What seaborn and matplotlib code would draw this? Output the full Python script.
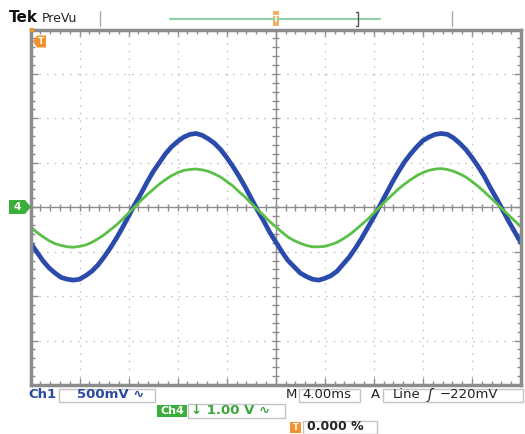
import numpy as np
import pandas as pd
import matplotlib
matplotlib.use("Agg")
import matplotlib.pyplot as plt
import seaborn as sns
from matplotlib.patches import Rectangle, Polygon

time_ms = [i * 0.5 for i in range(81)]
ch1_volts = [-0.40, -0.50, -0.60, -0.68, -0.74, -0.79, -0.81, -0.82, -0.81, -0.77,
             -0.72, -0.65, -0.56, -0.46, -0.35, -0.23, -0.10, 0.03, 0.15, 0.28,
             0.40, 0.50, 0.60, 0.68, 0.74, 0.79, 0.82, 0.83, 0.81, 0.77,
             0.72, 0.65, 0.56, 0.46, 0.35, 0.23, 0.10, -0.03, -0.15, -0.28,
             -0.39, -0.50, -0.60, -0.67, -0.74, -0.78, -0.81, -0.82, -0.80, -0.77,
             -0.72, -0.64, -0.56, -0.46, -0.35, -0.23, -0.11, 0.02, 0.15, 0.28,
             0.40, 0.51, 0.60, 0.68, 0.75, 0.79, 0.82, 0.83, 0.82, 0.78,
             0.72, 0.65, 0.56, 0.46, 0.35, 0.22, 0.10, -0.03, -0.16, -0.28,
             -0.40]
ch4_volts = [-0.44, -0.56, -0.66, -0.75, -0.82, -0.86, -0.89, -0.90, -0.88, -0.85,
             -0.79, -0.71, -0.62, -0.51, -0.40, -0.27, -0.13, 0.01, 0.15, 0.28,
             0.40, 0.52, 0.62, 0.71, 0.78, 0.83, 0.85, 0.86, 0.84, 0.81,
             0.75, 0.68, 0.58, 0.48, 0.35, 0.23, 0.09, -0.05, -0.18, -0.32,
             -0.44, -0.56, -0.67, -0.75, -0.81, -0.86, -0.89, -0.89, -0.88, -0.84,
             -0.79, -0.71, -0.62, -0.51, -0.39, -0.27, -0.13, 0.01, 0.15, 0.28,
             0.41, 0.52, 0.62, 0.71, 0.78, 0.83, 0.86, 0.87, 0.85, 0.81,
             0.75, 0.68, 0.58, 0.47, 0.35, 0.22, 0.09, -0.05, -0.18, -0.31,
             -0.44]
ch1_scale = 0.5      # V/div
ch4_scale = 1.0      # V/div
time_per_div = 4.0   # ms/div
n_hdiv, n_vdiv = 10, 8

sns.set_style("white")
plt.rcParams['font.family'] = ['DejaVu Sans']

W, H = 525, 434
fig = plt.figure(figsize=(W / 100, H / 100), dpi=100)
L, R, T, B = 30.5, 521, 29.5, 385
ax = fig.add_axes([L / W, 1 - B / H, (R - L) / W, (B - T) / H])
xmax = n_hdiv * time_per_div
ax.set_xlim(0, xmax)
ax.set_ylim(-n_vdiv / 2, n_vdiv / 2)

grid_c = '#bdbdbd'
for i in range(1, n_hdiv):
    if i != n_hdiv // 2:
        ax.axvline(i * time_per_div, ls=(0, (1.2, 5)), color=grid_c, lw=0.9, zorder=1)
for j in range(-n_vdiv // 2 + 1, n_vdiv // 2):
    if j != 0:
        ax.axhline(j, ls=(0, (1.2, 5)), color=grid_c, lw=0.9, zorder=1)
ax.axhline(0, color='#8c8c8c', lw=1.0, zorder=1)
ax.axvline(xmax / 2, color='#8c8c8c', lw=1.0, zorder=1)
ax.vlines(np.arange(0, xmax + 0.01, time_per_div / 5), -0.08, 0.08, color='#8c8c8c', lw=1.0, zorder=1)
ax.hlines(np.arange(-4, 4.01, 0.2), xmax / 2 - 0.3, xmax / 2 + 0.3, color='#8c8c8c', lw=1.0, zorder=1)

df1 = pd.DataFrame({"t": time_ms, "div": [v / ch1_scale for v in ch1_volts]})
df4 = pd.DataFrame({"t": time_ms, "div": [v / ch4_scale for v in ch4_volts]})
sns.lineplot(data=df1, x="t", y="div", color="#2b4bac", lw=3.4, ax=ax, zorder=3,
             solid_joinstyle='round', solid_capstyle='round')
sns.lineplot(data=df4, x="t", y="div", color="#5cbf48", lw=2.0, ax=ax, zorder=4,
             solid_joinstyle='round')

ax.set_xlabel("")
ax.set_ylabel("")
ax.set_xticks(np.arange(0, xmax + 0.01, time_per_div))
ax.set_xticks(np.arange(0, xmax + 0.01, time_per_div / 5), minor=True)
ax.set_yticks(np.arange(-4, 4.01, 1))
ax.set_yticks(np.arange(-4, 4.01, 0.2), minor=True)
ax.tick_params(which='both', direction='in', top=True, right=True, bottom=True, left=True,
               labelbottom=False, labelleft=False, color='#8c8c8c', width=1)
ax.tick_params(which='major', length=5)
ax.tick_params(which='minor', length=3)
for s in ax.spines.values():
    s.set_color('#8c8c8c')
    s.set_linewidth(2.5)
    s.set_zorder(5)

# ---- overlay in pixel coordinates for the scope annotations ----
ov = fig.add_axes([0, 0, 1, 1])
ov.set_xlim(0, W)
ov.set_ylim(H, 0)
ov.axis('off')
ov.patch.set_alpha(0)

blue_t = '#2a4aa0'
green_t = '#3aa53a'
orange = '#f0922e'

ov.text(9, 18, "Tek", fontsize=11, weight='bold', color='#111111', va='center', ha='left')
ov.text(42, 18, "PreVu", fontsize=9, color='#222222', va='center', ha='left')
ov.plot([100, 100], [11, 26], color='#aaaaaa', lw=1)
ov.plot([452, 452], [11, 26], color='#aaaaaa', lw=1)
ov.plot([170, 380], [19, 19], color='#8fd0a6', lw=1.5)
ov.plot([356, 358, 358, 356], [12, 12, 26, 26], color='#555555', lw=1)
ov.add_patch(Rectangle((272.5, 11), 6, 15, facecolor='#f5b060', edgecolor='none'))
ov.text(275.5, 19, "T", fontsize=6, color='white', ha='center', va='center', weight='bold')

# trigger marker top-left
ov.add_patch(Polygon([[33, 41.5], [37, 35.5], [46, 35.5], [46, 47.5], [37, 47.5]],
                     closed=True, facecolor=orange, edgecolor='none', zorder=6))
ov.text(40.5, 41.5, "T", fontsize=6.5, color='white', ha='center', va='center', weight='bold', zorder=7)
ov.add_patch(Rectangle((30, 28), 4, 4, facecolor=orange, edgecolor='none', zorder=6))

# Ch4 ground marker
ov.add_patch(Polygon([[9, 200], [25, 200], [31, 207], [25, 214], [9, 214]],
                     closed=True, facecolor='#3cae3c', edgecolor='none', zorder=6))
ov.text(17, 207, "4", fontsize=7.5, color='white', ha='center', va='center', weight='bold', zorder=7)

# bottom readouts
box_c = '#c4c4c4'
ov.text(28, 395, "Ch1", fontsize=9.5, color=blue_t, va='center', ha='left', weight='bold')
ov.add_patch(Rectangle((59, 388.5), 96, 13, facecolor='white', edgecolor=box_c, lw=1))
ov.text(77, 395, "500mV \u223f", fontsize=9.5, color=blue_t, va='center', ha='left', weight='bold')

ov.text(286, 395, "M", fontsize=9.5, color='#222222', va='center', ha='left')
ov.add_patch(Rectangle((299, 388.5), 61, 13, facecolor='white', edgecolor=box_c, lw=1))
ov.text(302, 395, "4.00ms", fontsize=9.5, color='#222222', va='center', ha='left')
ov.text(371, 395, "A", fontsize=9.5, color='#222222', va='center', ha='left')
ov.add_patch(Rectangle((383, 388.5), 140, 13, facecolor='white', edgecolor=box_c, lw=1))
ov.text(393, 395, "Line", fontsize=9.5, color='#222222', va='center', ha='left')
ov.text(428, 395, "\u0283", fontsize=10, color='#222222', va='center', ha='left', style='italic')
ov.text(440, 395, "\u2212220mV", fontsize=9.5, color='#222222', va='center', ha='left')

ov.add_patch(Rectangle((157, 405), 30, 12, facecolor='#3cae3c', edgecolor='none'))
ov.text(172, 411, "Ch4", fontsize=8, color='white', va='center', ha='center', weight='bold')
ov.add_patch(Rectangle((188, 404), 97, 14, facecolor='white', edgecolor=box_c, lw=1))
ov.text(191, 411, "\u2193 1.00 V \u223f", fontsize=9.5, color=green_t, va='center', ha='left', weight='bold')

ov.add_patch(Rectangle((290, 422), 11, 11, facecolor=orange, edgecolor='none'))
ov.text(295.5, 427.5, "T", fontsize=6, color='white', va='center', ha='center', weight='bold')
ov.add_patch(Rectangle((303, 421), 74, 13, facecolor='white', edgecolor=box_c, lw=1))
ov.text(307, 427, "0.000 %", fontsize=9, color='#222222', va='center', ha='left', weight='bold')

fig.savefig("out.png", dpi=100)
